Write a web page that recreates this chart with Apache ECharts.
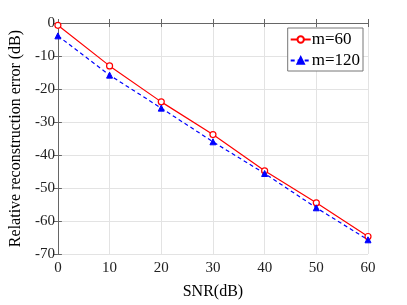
<!DOCTYPE html>
<html><head><meta charset="utf-8">
<script src="https://cdn.jsdelivr.net/npm/echarts@6/dist/echarts.min.js"></script>
<style>html,body{margin:0;padding:0;background:#fff}#c{width:407px;height:305px}</style>
</head><body><div id="c"></div>
<script>
const snr = [0, 10, 20, 30, 40, 50, 60];
const m60 = [-0.7, -13.0, -23.9, -33.8, -44.8, -54.5, -64.7];
const m120 = [-3.9, -15.8, -25.8, -36.0, -45.6, -56.0, -65.7];
const names = ['m=60', 'm=120'];
const font = 'Liberation Serif';
const axisCol = '#666';
const chart = echarts.init(document.getElementById('c'));
const common = {
  axisLine: {show: true, lineStyle: {color: axisCol, width: 1}},
  axisTick: {show: true, inside: true, length: 4, lineStyle: {color: axisCol}},
};
chart.setOption({
  animation: false,
  textStyle: {fontFamily: font},
  grid: {left: 52, right: 39, top: 23, bottom: 41, containLabel: false},
  legend: {
    right: 44, top: 28, orient: 'vertical',
    backgroundColor: '#fff', borderColor: '#777', borderWidth: 1,
    padding: [3, 3, 2, 2], itemGap: 4, itemWidth: 20, itemHeight: 8,
    textStyle: {fontFamily: font, fontSize: 17, color: '#000', padding: [0, 0, 0, -4]},
    data: names
  },
  xAxis: [{
    type: 'value', min: 0, max: 60, interval: 10,
    name: 'SNR(dB)', nameLocation: 'middle', nameGap: 30,
    nameTextStyle: {fontFamily: font, fontSize: 16, color: '#000'},
    axisLabel: {fontFamily: font, fontSize: 15, color: '#222', margin: 7},
    splitLine: {show: true, lineStyle: {color: '#e3e3e3'}},
    ...common
  }, {
    type: 'value', min: 0, max: 60, interval: 10, position: 'top',
    axisLabel: {show: false}, splitLine: {show: false}, ...common
  }],
  yAxis: [{
    type: 'value', min: -70, max: 0, interval: 10,
    name: 'Relative reconstruction error (dB)', nameLocation: 'middle', nameGap: 28,
    nameTextStyle: {fontFamily: font, fontSize: 16, color: '#000'},
    axisLabel: {fontFamily: font, fontSize: 15, color: '#222', margin: 3},
    splitLine: {show: true, lineStyle: {color: '#e3e3e3'}},
    ...common
  }, {
    type: 'value', min: -70, max: 0, interval: 10, position: 'right',
    axisLabel: {show: false}, splitLine: {show: false}, ...common
  }],
  series: [{
    name: names[0], type: 'line',
    data: snr.map((x, i) => [x, m60[i]]),
    symbol: 'circle', symbolSize: 6,
    itemStyle: {color: '#fff', borderColor: '#ff0000', borderWidth: 1.2},
    lineStyle: {color: '#ff0000', width: 1.2, type: 'solid'},
    color: '#ff0000'
  }, {
    name: names[1], type: 'line',
    data: snr.map((x, i) => [x, m120[i]]),
    symbol: 'triangle', symbolSize: 6,
    itemStyle: {color: '#0000ff', borderColor: '#0000ff', borderWidth: 1},
    lineStyle: {color: '#0000ff', width: 1.2, type: [4, 3]},
    color: '#0000ff'
  }]
});
</script></body></html>
